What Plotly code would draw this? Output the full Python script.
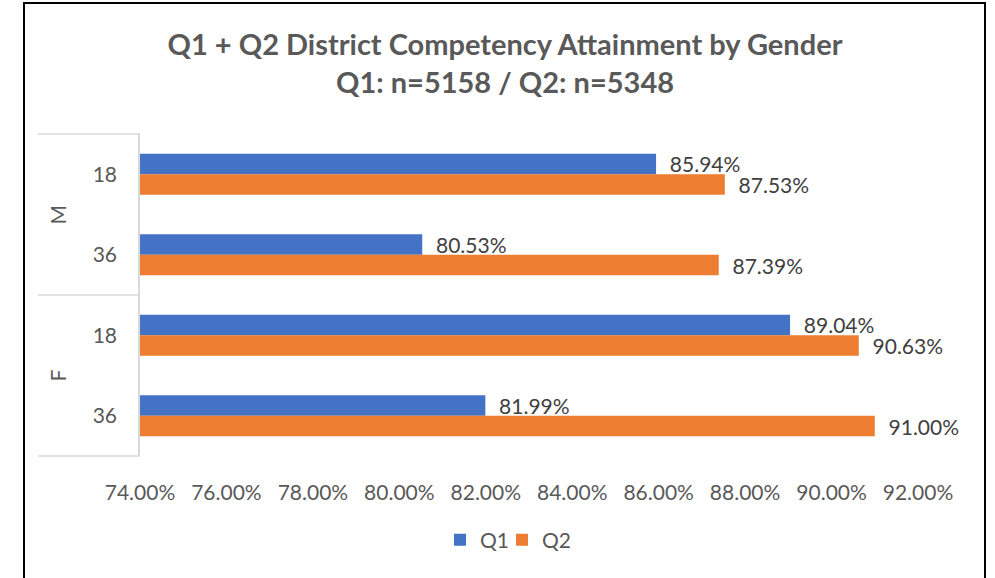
import plotly.graph_objects as go

# ---- data ----
categories = ["M-18", "M-36", "F-18", "F-36"]
category_labels = ["18", "36", "18", "36"]
groups = ["M", "F"]
q1_values = [0.8594, 0.8053, 0.8904, 0.8199]
q2_values = [0.8753, 0.8739, 0.9063, 0.9100]
x_ticks = [0.74, 0.76, 0.78, 0.80, 0.82, 0.84, 0.86, 0.88, 0.90, 0.92]
series_names = ["Q1", "Q2"]

FONT = "Lato, 'Liberation Sans', Arial, sans-serif"
GRAY = "#595959"
LABEL = "#404040"
BLUE = "#4472C4"
ORANGE = "#ED7D31"
LINE = "#D9D9D9"

W, H = 995, 578
L, R, T, B = 140, 918, 134, 456

fig = go.Figure()
for name, vals, col, lg in [(series_names[0], q1_values, BLUE, "legend"),
                            (series_names[1], q2_values, ORANGE, "legend2")]:
    fig.add_trace(go.Bar(
        name=name, y=categories, x=vals, orientation="h",
        marker=dict(color=col, line=dict(width=0)),
        text=[f"\u00a0\u00a0{v*100:.2f}%" for v in vals],
        textposition="outside", textfont=dict(family=FONT, size=21, color=LABEL),
        cliponaxis=False, constraintext="none",
        hoverinfo="skip", legend=lg,
    ))

def px_x(px):
    return (px - L) / (R - L)

def px_y(py):
    return (B - py) / (B - T)

shapes = []
# chart border
shapes.append(dict(type="rect", xref="paper", yref="paper",
                   x0=px_x(24), x1=px_x(985), y0=px_y(600), y1=px_y(3),
                   line=dict(color="#000000", width=2), fillcolor="rgba(0,0,0,0)", layer="below"))
# category box lines
for py in [T, (T + B) / 2, B]:
    shapes.append(dict(type="line", xref="paper", yref="paper",
                       x0=px_x(38), x1=0, y0=px_y(py), y1=px_y(py),
                       line=dict(color=LINE, width=1.5)))

annotations = []
for i, g in enumerate(groups):
    annotations.append(dict(text=g, xref="paper", yref="paper",
                            x=px_x(57), y=1 - (i + 0.5) / len(groups),
                            showarrow=False, textangle=-90,
                            font=dict(family=FONT, size=21, color=GRAY),
                            xanchor="center", yanchor="middle"))

legend_common = dict(orientation="h", xanchor="left", xref="container", yref="container",
                     y=1 - 540 / H, yanchor="middle",
                     font=dict(family=FONT, size=21, color=GRAY), bgcolor="rgba(0,0,0,0)")

fig.update_layout(
    width=W, height=H,
    margin=dict(l=L, r=W - R, t=T, b=H - B, pad=0),
    paper_bgcolor="white", plot_bgcolor="white",
    barmode="group", bargap=0.49, bargroupgap=0,
    title=dict(text="<b>Q1 + Q2 District Competency Attainment by Gender<br>Q1: n=5158 / Q2: n=5348</b>",
               x=505 / W, xanchor="center", xref="container",
               y=1 - 55 / H, yanchor="middle",
               font=dict(family=FONT, size=29, color=GRAY)),
    xaxis=dict(range=[0.74, 0.92], tickvals=x_ticks, tickformat=".2%",
               showgrid=False, zeroline=False, showline=False,
               ticks="", ticklabelstandoff=22,
               tickfont=dict(family=FONT, size=21, color=GRAY), fixedrange=True),
    yaxis=dict(categoryorder="array", categoryarray=categories, autorange="reversed",
               tickvals=categories, ticktext=category_labels,
               showgrid=False, zeroline=False, showline=True, linecolor=LINE, linewidth=1.5,
               ticks="", ticklabelstandoff=17,
               tickfont=dict(family=FONT, size=21, color=GRAY), fixedrange=True),
    legend=dict(legend_common, x=440 / W),
    legend2=dict(legend_common, x=502 / W),
    shapes=shapes, annotations=annotations,
    showlegend=True,
)

fig.write_html("out.html", config={"displayModeBar": False},
               post_script="document.body.style.margin='0';document.body.style.overflow='hidden';")
